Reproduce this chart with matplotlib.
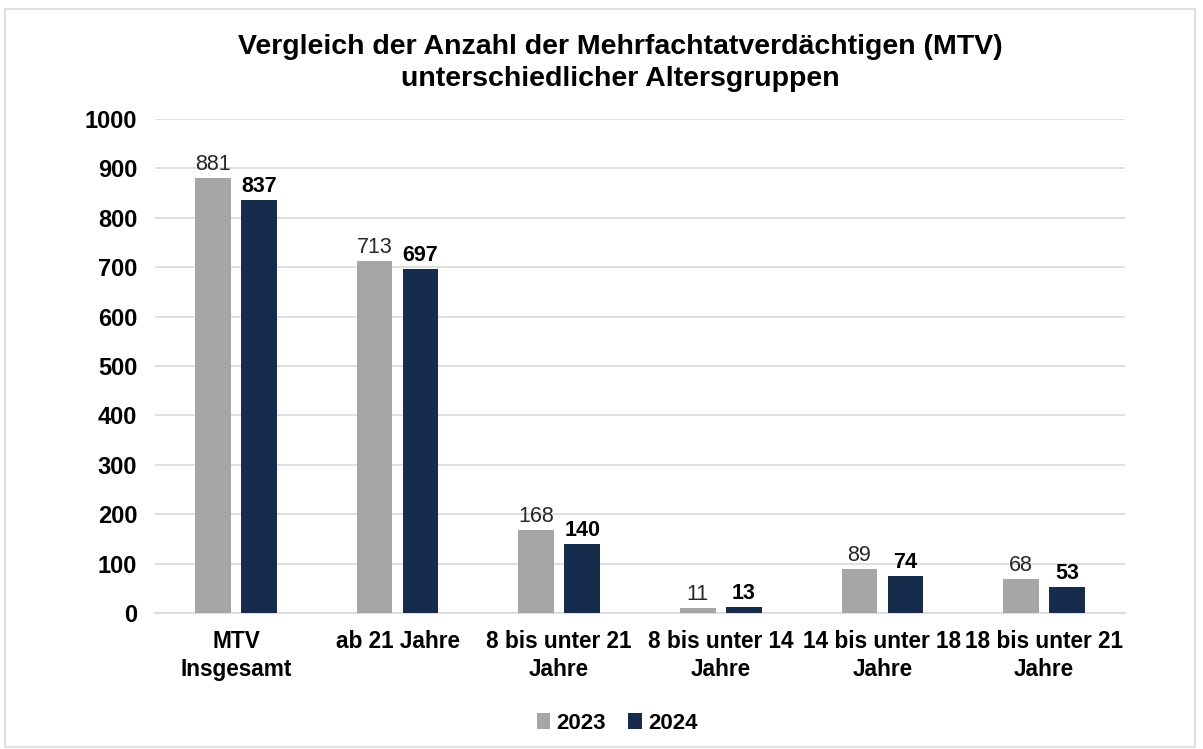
import numpy as np
import matplotlib.pyplot as plt
from matplotlib.patches import Rectangle

plt.rcParams['font.family'] = ['Liberation Sans', 'DejaVu Sans']

categories = ["MTV\nInsgesamt", "ab 21 Jahre", "8 bis unter 21\nJahre",
              "8 bis unter 14\nJahre", "14 bis unter 18\nJahre", "18 bis unter 21\nJahre"]
vals_2023 = [881, 713, 168, 11, 89, 68]
vals_2024 = [837, 697, 140, 13, 74, 53]
yticks = [0, 100, 200, 300, 400, 500, 600, 700, 800, 900, 1000]

c2023 = "#a6a6a6"
c2024 = "#172b4d"

fig = plt.figure(figsize=(12.03, 7.49), dpi=100)
fig.patches.append(Rectangle((5 / 1203, 0.003), 1190 / 1203, 1 - 11 / 749,
                             transform=fig.transFigure, fill=False,
                             edgecolor="#d9d9d9", linewidth=1.2))
ax = fig.add_axes([0.129, 0.1816, 0.806, 0.6595])

x = np.arange(len(categories))
w = 0.22
off = 0.142
b1 = ax.bar(x - off, vals_2023, w, color=c2023, label="2023", zorder=3)
b2 = ax.bar(x + off, vals_2024, w, color=c2024, label="2024", zorder=3)

for r, v in zip(b1, vals_2023):
    ax.text(r.get_x() + r.get_width() / 2, v + 6, str(v), ha="center", va="bottom",
            fontsize=15.5, color="#262626")
for r, v in zip(b2, vals_2024):
    ax.text(r.get_x() + r.get_width() / 2, v + 6, str(v), ha="center", va="bottom",
            fontsize=15.5, fontweight="bold", color="#000000")

ax.set_xlim(-0.5, len(categories) - 0.5)
ax.set_ylim(0, 1000)
ax.set_yticks(yticks)
ax.set_yticklabels([str(t) for t in yticks], fontsize=17, fontweight="bold")
ax.set_xticks(x)
ax.set_xticklabels(categories, fontsize=16.3, fontweight="bold", linespacing=1.3)
ax.tick_params(axis="x", length=0, pad=12)
ax.tick_params(axis="y", length=0, pad=13)
ax.grid(axis="y", color="#d9d9d9", linewidth=1.2, zorder=0)
for s in ["top", "right", "left"]:
    ax.spines[s].set_visible(False)
ax.spines["bottom"].set_color("#d9d9d9")
ax.spines["bottom"].set_linewidth(1.2)

fig.text(0.516, 0.916, "Vergleich der Anzahl der Mehrfachtatverdächtigen (MTV)\nunterschiedlicher Altersgruppen",
         ha="center", va="center", fontsize=20.5, fontweight="bold", linespacing=1.32)

leg = fig.legend(handles=[b1, b2], loc="center", bbox_to_anchor=(0.513, 0.034), ncol=2,
                 frameon=False, prop={"size": 16, "weight": "bold"},
                 handlelength=0.6, handleheight=0.7, handletextpad=0.3, columnspacing=1.0)

fig.savefig("out.png", dpi=100)
